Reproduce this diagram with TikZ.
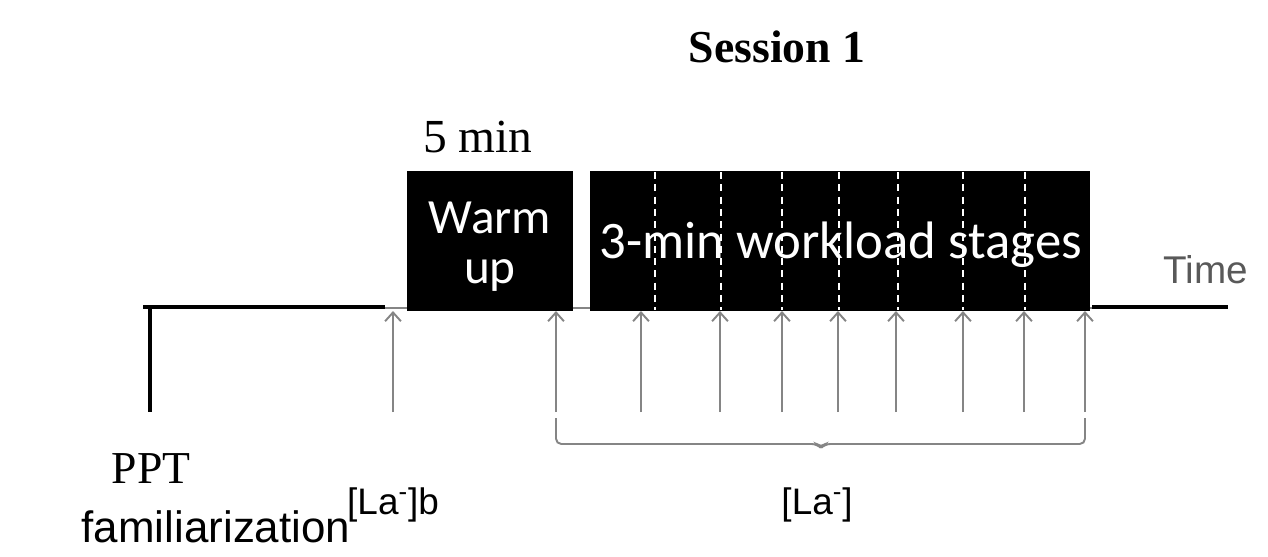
\documentclass[tikz,border=0pt]{standalone}
\usepackage{fontspec}
\usepackage{tikz}
\usetikzlibrary{arrows.meta}
\setmainfont{Liberation Serif}
\newfontfamily\calfont{Carlito}
\newfontfamily\arialfont{Liberation Sans}
\definecolor{timegray}{HTML}{595959}
\definecolor{tickgray}{HTML}{858585}

\begin{document}
\begin{tikzpicture}[x=0.02cm, y=-0.02cm,
  stagebox/.style={fill=black, draw=none, inner sep=0pt, minimum height=2.82cm},
  boxtext/.style={text=white, font=\calfont\fontsize{28}{28.5}\selectfont, align=center},
  tick/.style={tickgray, line width=1.1pt, -{Straight Barb[length=5pt,width=9pt]}},
  brace/.style={tickgray, line width=1.1pt, rounded corners=3pt}]
\useasboundingbox (0,0) rectangle (1268,556);

% time line
\draw[tickgray, line width=1pt] (385,308) -- (1092,308);
\draw[black, line width=2.8pt] (143,307) -- (385,307);
\draw[black, line width=2.8pt] (1092,307) -- (1228,307);
\draw[black, line width=2.8pt] (150,307) -- (150,412);
\node[font=\arialfont\fontsize{22}{24}\selectfont, text=timegray, anchor=base] (time) at (1206,283) {Time};

% blocks
\node[stagebox, minimum width=3.32cm] (wu) at (490,241) {};
\node[stagebox, minimum width=10.0cm] (wl) at (840,241) {};
\foreach \x in {655,721,782,839,898,963,1025}
  \draw[white, line width=1.3pt, dash pattern=on 4pt off 3pt] (\x,172) -- (\x,310);
\node[boxtext] (wutext) at (490,247) {Warm\\up};
\node[boxtext, font=\calfont\fontsize{30}{31}\selectfont] (wltext) at (841,245) {3-min workload stages};

\node[font=\fontsize{27}{28}\selectfont, anchor=base] (five) at (478,152) {5 min};
\node[font=\bfseries\fontsize{26}{28}\selectfont, anchor=base] (sess) at (777,62) {Session 1};

% samples
\foreach \x in {393,556,641,720,782,838,896,963,1024,1085}
  \draw[tick] (\x,412) -- (\x,311);

\coordinate (bl) at (556,418);
\coordinate (br) at (1085,418);
\draw[brace] (bl) -- (556,444) -- (817,444) -- (821,448) -- (825,444) -- (1085,444) -- (br);

% labels
\node[font=\fontsize{26}{28}\selectfont, anchor=base] (ppt) at (151,483) {PPT};
\node[font=\arialfont\fontsize{25}{28}\selectfont, anchor=base, inner sep=1pt] (fam) at (216,542) {familiarization};
\node[font=\arialfont\fontsize{21}{24}\selectfont, anchor=base, inner sep=1pt] (lab) at (393,514) {[La\textsuperscript{-}]b};
\node[font=\arialfont\fontsize{21}{24}\selectfont, anchor=base] (la) at (817,514) {[La\textsuperscript{-}]};
\end{tikzpicture}
\end{document}
